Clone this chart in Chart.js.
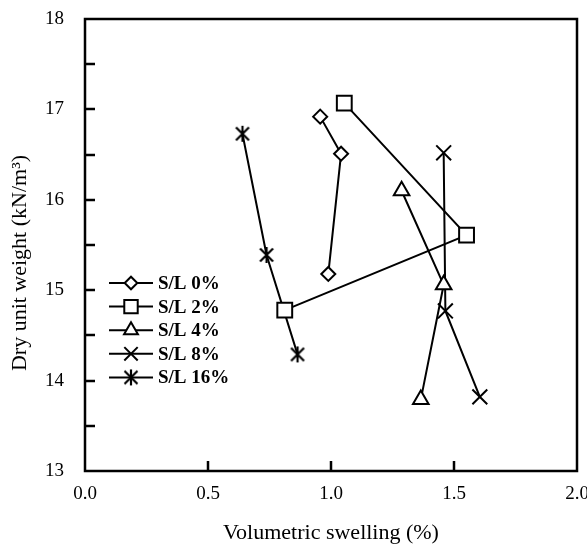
<!DOCTYPE html>
<html><head><meta charset="utf-8">
<script src="https://cdn.jsdelivr.net/npm/chart.js@4/dist/chart.umd.min.js"></script>
<style>html,body{margin:0;padding:0;background:#fff;overflow:hidden}#wrap{width:587px;height:546px;position:relative}canvas{display:block}</style>
</head><body><div id="wrap"><canvas id="c"></canvas></div>
<script>
// ---- data ----
const seriesLabels = ['S/L 0%', 'S/L 2%', 'S/L 4%', 'S/L 8%', 'S/L 16%'];
const swell_0  = [0.956, 1.041, 0.989];
const gamma_0  = [16.92, 16.51, 15.18];
const swell_2  = [1.054, 1.551, 0.812];
const gamma_2  = [17.07, 15.61, 14.78];
const swell_4  = [1.287, 1.458, 1.365];
const gamma_4  = [16.10, 15.06, 13.79];
const swell_8  = [1.458, 1.465, 1.605];
const gamma_8  = [16.52, 14.77, 13.82];
const swell_16 = [0.640, 0.738, 0.864];
const gamma_16 = [16.73, 15.39, 14.29];
const xTickLabels = ['0.0', '0.5', '1.0', '1.5', '2.0'];
const yTickLabels = ['13', '14', '15', '16', '17', '18'];
const xTitle = 'Volumetric swelling (%)';
const yTitle = 'Dry unit weight (kN/m³)';

// asterisk marker (X with vertical bar)
function makeStar() {
  const c = document.createElement('canvas');
  c.width = 20; c.height = 20;
  const g = c.getContext('2d');
  g.strokeStyle = '#000'; g.lineWidth = 2.2; g.lineCap = 'butt';
  g.beginPath();
  g.moveTo(10, 2); g.lineTo(10, 18);
  g.moveTo(3.5, 3.5); g.lineTo(16.5, 16.5);
  g.moveTo(16.5, 3.5); g.lineTo(3.5, 16.5);
  g.stroke();
  return c;
}
const starImg = makeStar();

const styles = [
  { pointStyle: 'rectRot', radius: 7 },
  { pointStyle: 'rect', radius: 10.5 },
  { pointStyle: 'triangle', radius: 9 },
  { pointStyle: 'crossRot', radius: 10.5 },
  { pointStyle: starImg, radius: 10 }
];
const xs = [swell_0, swell_2, swell_4, swell_8, swell_16];
const ys = [gamma_0, gamma_2, gamma_4, gamma_8, gamma_16];

const datasets = seriesLabels.map((lab, i) => ({
  label: lab,
  data: xs[i].map((x, j) => ({ x: x, y: ys[i][j] })),
  showLine: true,
  borderColor: '#000',
  borderWidth: 2,
  backgroundColor: '#fff',
  pointBackgroundColor: '#fff',
  pointBorderColor: '#000',
  pointBorderWidth: 2,
  pointStyle: styles[i].pointStyle,
  pointRadius: styles[i].radius,
  pointHoverRadius: styles[i].radius,
  tension: 0
}));

const serif = 'Liberation Serif, Times New Roman, serif';

const framePlugin = {
  id: 'frame',
  afterDatasetsDraw(chart) {
    const ctx = chart.ctx, a = chart.chartArea;
    const xs_ = chart.scales.x, ys_ = chart.scales.y;
    ctx.save();
    ctx.strokeStyle = '#000';
    // inward ticks
    ctx.lineWidth = 2.5;
    ctx.beginPath();
    ys_.ticks.forEach(t => {
      if (t.value <= ys_.min || t.value >= ys_.max) return;
      const p = Math.round(ys_.getPixelForValue(t.value));
      ctx.moveTo(a.left, p); ctx.lineTo(a.left + 10, p);
    });
    xs_.ticks.forEach(t => {
      if (t.value <= xs_.min || t.value >= xs_.max) return;
      const p = Math.round(xs_.getPixelForValue(t.value));
      ctx.moveTo(p, a.bottom); ctx.lineTo(p, a.bottom - 10);
    });
    ctx.stroke();
    // frame
    ctx.lineWidth = 2.5;
    ctx.strokeRect(a.left, a.top, a.right - a.left, a.bottom - a.top);
    // y title
    ctx.save();
    ctx.fillStyle = '#000';
    ctx.font = '22px ' + serif;
    ctx.textAlign = 'center';
    ctx.textBaseline = 'middle';
    ctx.translate(20, 263);
    ctx.rotate(-Math.PI / 2);
    ctx.fillText(yTitle, 0, 0);
    ctx.restore();
    // legend
    const lx1 = 109, lx2 = 153, tx = 158, y0 = 283, dy = 23.6;
    ctx.font = 'bold 19px ' + serif;
    ctx.textBaseline = 'middle';
    ctx.textAlign = 'left';
    chart.data.datasets.forEach((ds, i) => {
      const y = y0 + i * dy;
      ctx.lineWidth = 2;
      ctx.strokeStyle = '#000';
      ctx.beginPath(); ctx.moveTo(lx1, y); ctx.lineTo(lx2, y); ctx.stroke();
      ctx.fillStyle = '#fff';
      ctx.strokeStyle = '#000';
      ctx.lineWidth = 2;
      const cx = (lx1 + lx2) / 2;
      if (Chart.helpers && Chart.helpers.drawPoint) {
        const r = ds.pointStyle === 'rect' ? 9.5 : (ds.pointStyle === 'triangle' ? 8 : ds.pointRadius * 0.9);
        Chart.helpers.drawPoint(ctx, { pointStyle: ds.pointStyle, radius: r, rotation: 0, borderWidth: 2 }, cx, y);
      }
      ctx.fillStyle = '#000';
      ctx.fillText(ds.label, tx, y + 1);
    });
    ctx.restore();
  }
};

new Chart(document.getElementById('c'), {
  type: 'scatter',
  data: { datasets: datasets },
  options: {
    responsive: true,
    maintainAspectRatio: false,
    animation: false,
    layout: { autoPadding: false, padding: { top: 19, right: 10, left: 0, bottom: 0 } },
    plugins: { legend: { display: false }, tooltip: { enabled: false } },
    scales: {
      x: {
        type: 'linear', min: 0, max: 2,
        afterFit(s) { s.height = 75; s.paddingLeft = 0; s.paddingRight = 0; },
        grid: { display: false, drawTicks: false },
        border: { display: false },
        ticks: {
          stepSize: 0.5, autoSkip: false, color: '#000', padding: 12,
          font: { family: serif, size: 19 },
          callback: (v) => { const k = Math.round(v / 0.5); return xTickLabels[k] !== undefined && Math.abs(v - k * 0.5) < 1e-9 ? xTickLabels[k] : ''; }
        },
        title: {
          display: true, text: xTitle, color: '#000',
          font: { family: serif, size: 22 }, padding: { top: 0, bottom: 0 }
        }
      },
      y: {
        type: 'linear', min: 13, max: 18,
        afterFit(s) { s.width = 85; s.paddingTop = 0; s.paddingBottom = 0; },
        grid: { display: false, drawTicks: false },
        border: { display: false },
        ticks: {
          stepSize: 0.5, autoSkip: false, color: '#000', padding: 21,
          font: { family: serif, size: 19 },
          callback: (v) => { const k = v - 13; return Number.isInteger(v) && yTickLabels[k] !== undefined ? yTickLabels[k] : ''; }
        },
        title: { display: false }
      }
    }
  },
  plugins: [framePlugin]
});
</script>
</body></html>
